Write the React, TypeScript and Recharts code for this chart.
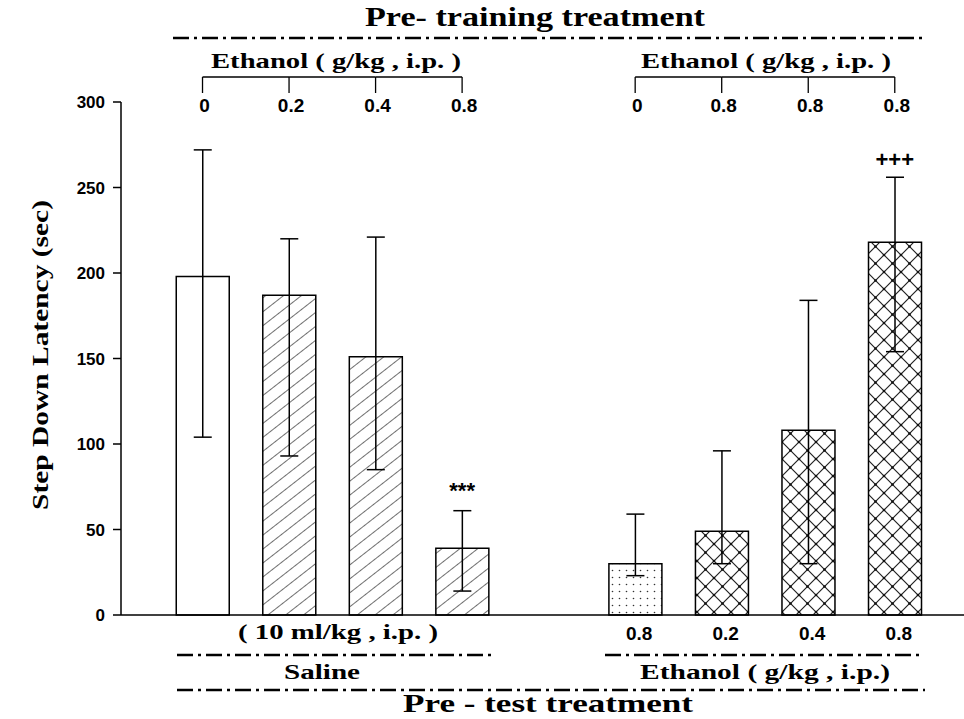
import { Bar, Cell, ComposedChart, ErrorBar, ReferenceDot, XAxis, YAxis } from "recharts";

// slot 4 is left empty between the two groups
const positions = [0, 1, 2, 3, 5, 6, 7, 8];
const means = [198, 187, 151, 39, 30, 49, 108, 218];
const lowerEnds = [104, 93, 85, 14, 23, 30, 30, 154];
const upperEnds = [272, 220, 221, 61, 59, 96, 184, 256];
const fills = ["open", "hatch", "hatch", "hatch", "dots", "cross", "cross", "cross"];
const preTrainingDoses = ["0", "0.2", "0.4", "0.8", "0", "0.8", "0.8", "0.8"];
const preTestDoses = ["", "", "", "", "0.8", "0.2", "0.4", "0.8"];
const marks = ["", "", "", "***", "", "", "", "+++"];
const yTicks = [0, 50, 100, 150, 200, 250, 300];

const W = 964;
const H = 719;
const PLOT_LEFT = 121;
const X_DOMAIN: [number, number] = [-0.942, 8.8];
const STEP = (W - PLOT_LEFT) / (X_DOMAIN[1] - X_DOMAIN[0]);

const SERIF = "'Liberation Serif', 'Times New Roman', serif";
const SANS = "'Liberation Sans', Arial, sans-serif";
const DASH = "16 5 3 5";

const rows = positions.map((x, i) => ({
  x,
  mean: means[i],
  err: [means[i] - lowerEnds[i], upperEnds[i] - means[i]],
  fill: fills[i],
}));

const fillUrl: Record<string, string> = {
  open: "#fff",
  hatch: "url(#hatch)",
  dots: "url(#dots)",
  cross: "url(#cross)",
};

function TopTick(props: any) {
  const { x, index } = props;
  const groupEnd = index === 3 || index === 7;
  return (
    <g>
      <line x1={x} x2={x} y1={77} y2={93} stroke="#000" strokeWidth={1.3} />
      {!groupEnd && (
        <line x1={x} x2={x + STEP} y1={77} y2={77} stroke="#000" strokeWidth={1.3} />
      )}
      <text
        x={x + 2}
        y={112}
        textAnchor="middle"
        fontFamily={SANS}
        fontWeight="bold"
        fontSize={19}
        fill="#000"
      >
        {preTrainingDoses[index]}
      </text>
    </g>
  );
}

function BottomTick(props: any) {
  const { x, index } = props;
  return (
    <text
      x={x + 4}
      y={640}
      textAnchor="middle"
      fontFamily={SANS}
      fontWeight="bold"
      fontSize={19}
      fill="#000"
    >
      {preTestDoses[index]}
    </text>
  );
}

function Label(props: { x: number; y: number; w: number; size: number; children: string }) {
  return (
    <text
      x={props.x - props.w / 2}
      y={props.y}
      fontSize={props.size}
      textLength={props.w}
      lengthAdjust="spacingAndGlyphs"
    >
      {props.children}
    </text>
  );
}

export default function App() {
  return (
    <div style={{ position: "absolute", left: 0, top: 0, width: W, height: H, background: "#fff" }}>
      <ComposedChart
        width={W}
        height={H}
        data={rows}
        margin={{ top: 72, right: 0, bottom: 74, left: 61 }}
      >
        <defs>
          <pattern id="hatch" patternUnits="userSpaceOnUse" width={11} height={11} patternTransform="rotate(-38)">
            <rect width={11} height={11} fill="#fff" />
            <line x1={0} x2={11} y1={0} y2={0} stroke="#222" strokeWidth={1.3} />
          </pattern>
          <pattern id="dots" patternUnits="userSpaceOnUse" width={7} height={7}>
            <rect width={7} height={7} fill="#fff" />
            <circle cx={3.5} cy={3.5} r={0.8} fill="#333" />
          </pattern>
          <pattern id="cross" patternUnits="userSpaceOnUse" width={17} height={17}>
            <rect width={17} height={17} fill="#fff" />
            <path d="M0,0 L17,17 M17,0 L0,17" stroke="#222" strokeWidth={1.2} />
            <circle cx={8.5} cy={8.5} r={1.3} fill="#111" />
            <circle cx={0} cy={0} r={1.3} fill="#111" />
            <circle cx={17} cy={0} r={1.3} fill="#111" />
            <circle cx={0} cy={17} r={1.3} fill="#111" />
            <circle cx={17} cy={17} r={1.3} fill="#111" />
          </pattern>
        </defs>
        <XAxis
          xAxisId="top"
          orientation="top"
          type="number"
          dataKey="x"
          domain={X_DOMAIN}
          ticks={positions}
          tick={TopTick}
          axisLine={false}
          tickLine={false}
          height={30}
          interval={0}
        />
        <XAxis
          type="number"
          dataKey="x"
          domain={X_DOMAIN}
          ticks={positions}
          tick={BottomTick}
          tickLine={false}
          axisLine={{ stroke: "#000", strokeWidth: 1.5 }}
          height={30}
          interval={0}
        />
        <YAxis
          domain={[0, 300]}
          ticks={yTicks}
          width={60}
          tickSize={8}
          tickMargin={8}
          axisLine={{ stroke: "#000", strokeWidth: 1.5 }}
          tickLine={{ stroke: "#000", strokeWidth: 1.5 }}
          tick={{ fill: "#000", fontFamily: SANS, fontWeight: "bold", fontSize: 17 }}
        />
        <Bar dataKey="mean" barSize={53} stroke="#000" strokeWidth={1.5} isAnimationActive={false}>
          {rows.map((r, i) => (
            <Cell key={i} fill={fillUrl[r.fill]} />
          ))}
          <ErrorBar dataKey="err" direction="y" width={9} stroke="#000" strokeWidth={1.5} isAnimationActive={false} />
        </Bar>
        {marks.map((m, i) =>
          m ? (
            <ReferenceDot
              key={i}
              x={positions[i]}
              y={upperEnds[i]}
              r={0}
              fill="none"
              stroke="none"
              label={{
                value: m,
                position: "top",
                offset: m === "***" ? 13 : 10,
                fill: "#000",
                fontFamily: SANS,
                fontWeight: "bold",
                fontSize: 22,
              }}
            />
          ) : null
        )}
      </ComposedChart>
      <svg
        width={W}
        height={H}
        style={{ position: "absolute", left: 0, top: 0, pointerEvents: "none" }}
      >
        <g fontFamily={SERIF} fontWeight="bold" fill="#000">
          <Label x={535} y={26} w={340} size={28}>Pre- training treatment</Label>
          <line x1={173} x2={927} y1={38} y2={38} stroke="#000" strokeWidth={2.5} strokeDasharray={DASH} />
          <Label x={336} y={68} w={250} size={21}>Ethanol ( g/kg , i.p. )</Label>
          <Label x={766} y={68} w={250} size={21}>Ethanol ( g/kg , i.p. )</Label>

          <Label x={338} y={639} w={200} size={20}>( 10 ml/kg , i.p. )</Label>
          <line x1={177} x2={495} y1={655} y2={655} stroke="#000" strokeWidth={2.5} strokeDasharray={DASH} />
          <line x1={605} x2={922} y1={655} y2={655} stroke="#000" strokeWidth={2.5} strokeDasharray={DASH} />
          <Label x={322} y={679} w={76} size={20}>Saline</Label>
          <Label x={765} y={679} w={250} size={20}>Ethanol ( g/kg , i.p.)</Label>
          <line x1={177} x2={925} y1={690} y2={690} stroke="#000" strokeWidth={2.5} strokeDasharray={DASH} />
          <Label x={548} y={712} w={290} size={26}>Pre - test treatment</Label>

          <g transform="translate(48 355) rotate(-90)">
            <Label x={0} y={0} w={310} size={23}>Step Down Latency (sec)</Label>
          </g>
        </g>
      </svg>
    </div>
  );
}
